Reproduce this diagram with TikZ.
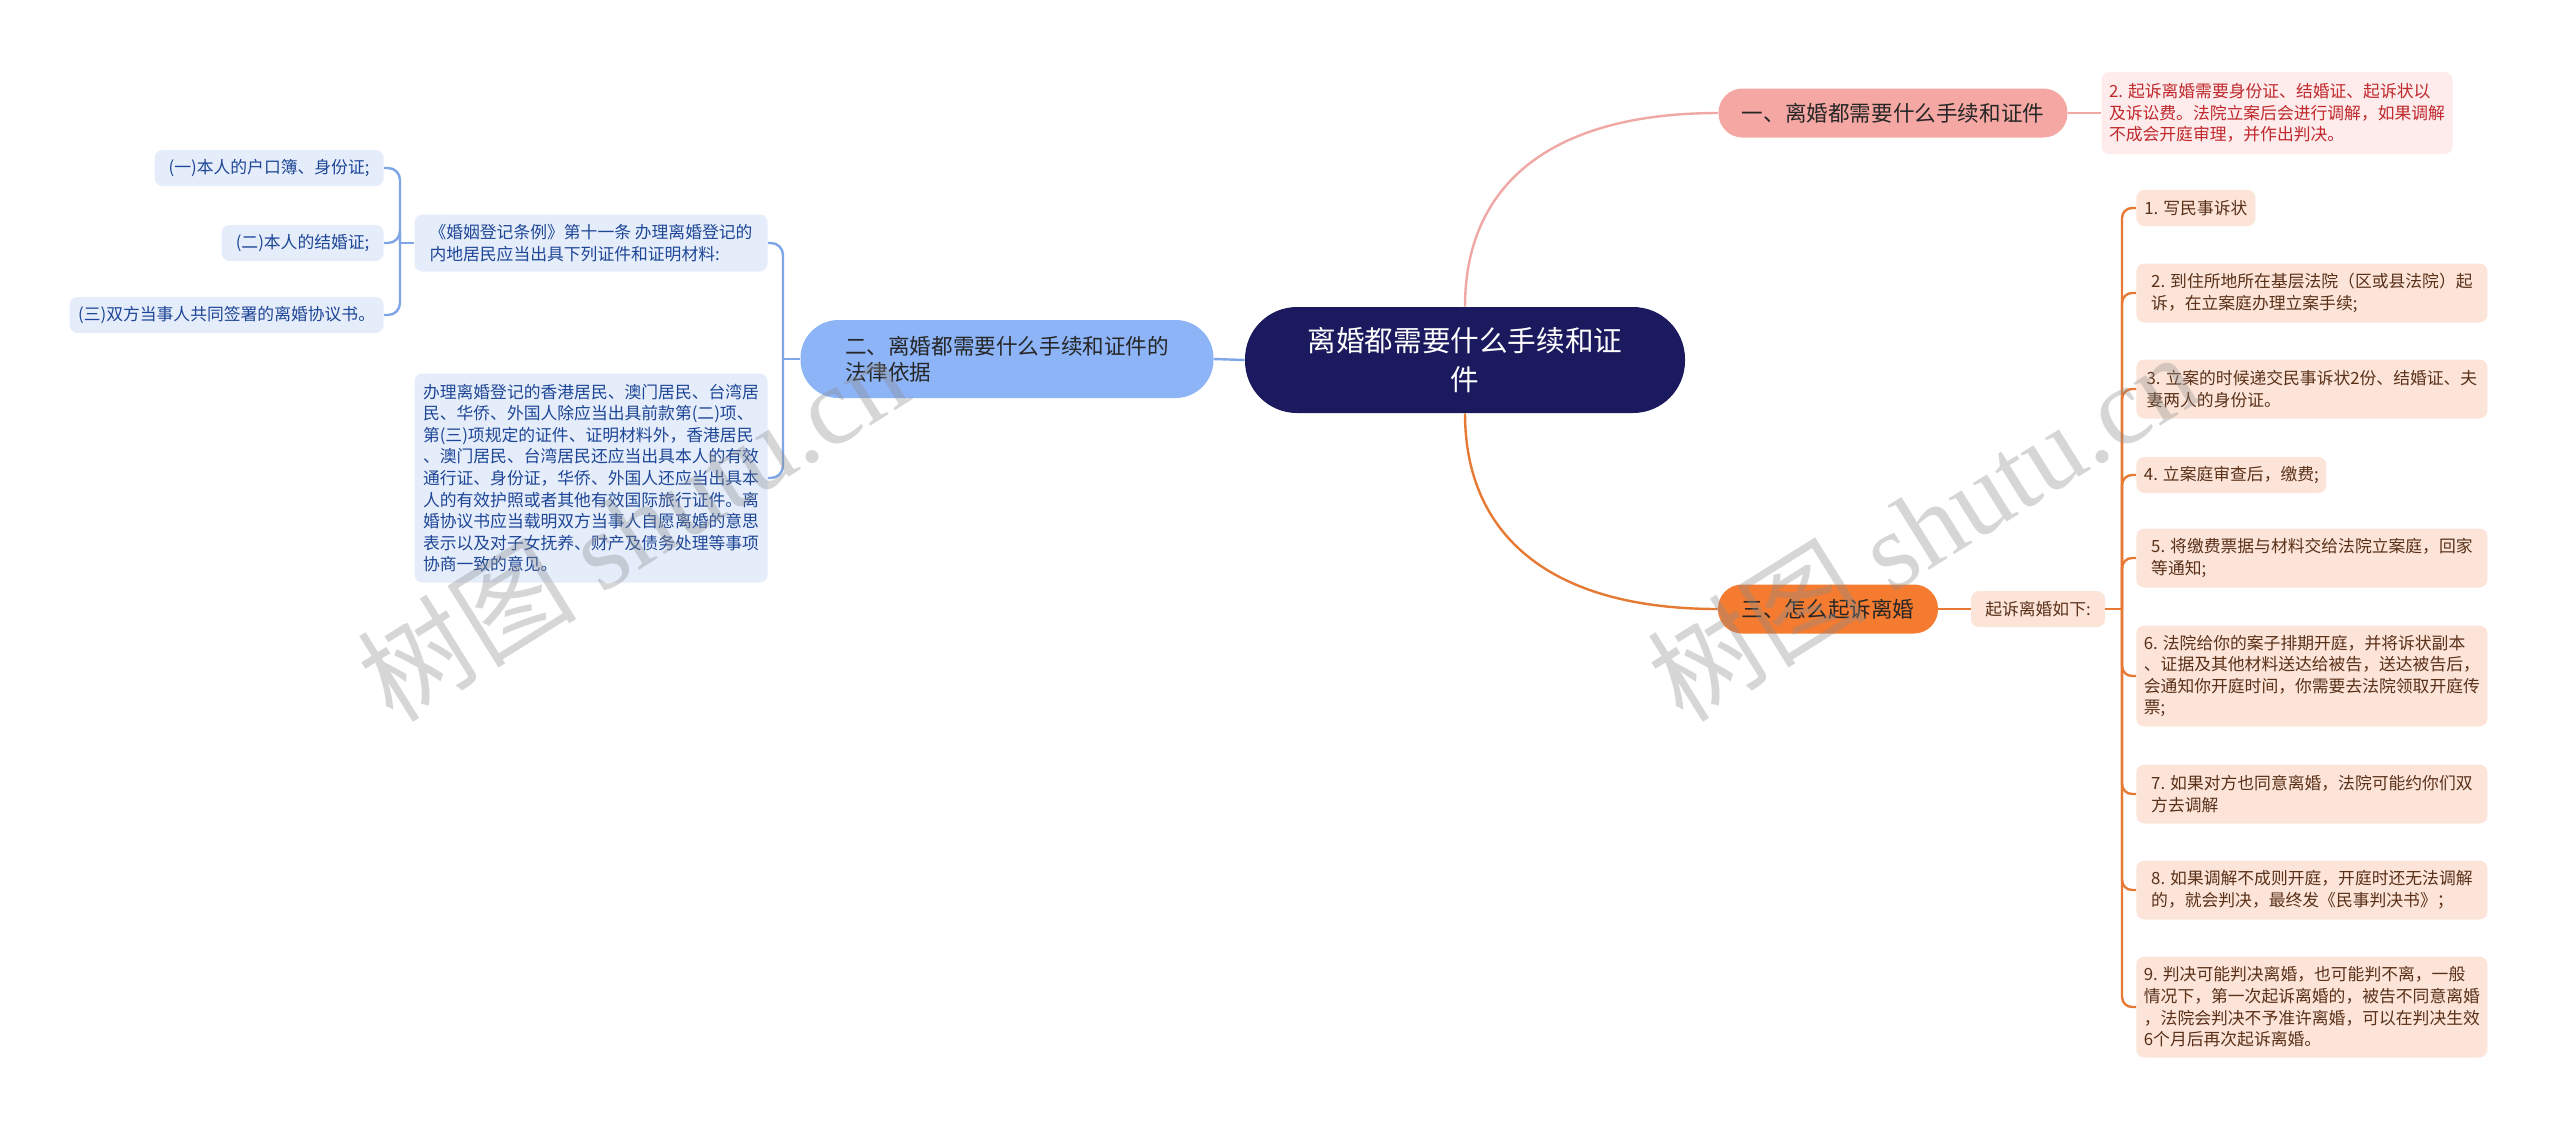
\documentclass[tikz,border=0pt]{standalone}
\usepackage{fontspec}
\setmainfont{Noto Sans CJK SC}
\newfontfamily\wmlatin{Liberation Serif}
\usetikzlibrary{positioning,calc}
\definecolor{mmnavy}{RGB}{27,26,94}
\definecolor{mmpink}{RGB}{245,168,163}
\definecolor{mmpinkbg}{RGB}{253,236,235}
\definecolor{mmpinkln}{RGB}{240,168,165}
\definecolor{mmred}{RGB}{192,40,45}
\definecolor{mmblue}{RGB}{140,180,247}
\definecolor{mmbluebg}{RGB}{229,237,251}
\definecolor{mmblueln}{RGB}{127,166,230}
\definecolor{mmbluetx}{RGB}{30,70,150}
\definecolor{mmorange}{RGB}{244,123,48}
\definecolor{mmorangebg}{RGB}{252,229,216}
\definecolor{mmorangeln}{RGB}{230,122,53}
\definecolor{mmbrown}{RGB}{90,48,25}
\tikzset{
  rootbox/.style={
    rectangle, rounded corners=26pt, fill=mmnavy, text=white,
    minimum width=220pt, minimum height=53pt, inner sep=0pt,
    align=center, font=\fontsize{14.3pt}{19.5pt}\selectfont
  },
  topic/.style={
    rectangle, rounded corners=12pt, minimum height=24.5pt, inner sep=0pt,
    align=left, text=black!85, font=\fontsize{10.8pt}{13pt}\selectfont
  },
  topicP/.style={topic, fill=mmpink},
  topicB/.style={topic, fill=mmblue, rounded corners=19pt},
  topicO/.style={topic, fill=mmorange},
  leaf/.style={
    rectangle, rounded corners=4pt, inner sep=0pt, align=left,
    font=\fontsize{8.4pt}{10.8pt}\selectfont
  },
  leafP/.style={leaf, fill=mmpinkbg, text=mmred},
  leafB/.style={leaf, fill=mmbluebg, text=mmbluetx},
  leafO/.style={leaf, fill=mmorangebg, text=mmbrown},
  linkP/.style={draw=mmpinkln, line width=1.2pt},
  linkB/.style={draw=mmblueln, line width=1.2pt, rounded corners=6pt},
  linkO/.style={draw=mmorangeln, line width=1.2pt, rounded corners=5pt},
  watermark/.style={
    rotate=32, text=black!45, opacity=0.35,
    font=\fontsize{55pt}{60pt}\selectfont
  }
}

\begin{document}
\begin{tikzpicture}[x=0.5pt, y=-0.5pt]
  \fill[white] (0,0) rectangle (2560,1131);
  \useasboundingbox (0,0) rectangle (2560,1131);

  \node[rootbox] (root) at (1465,360) {离婚都需要什么手续和证\\件};

  \node[topicP, minimum width=174.5pt] (b1) at (1893,113) {一、离婚都需要什么手续和证件};
  \node[leafP, minimum width=175.5pt, minimum height=41pt] (l1) at (2277,113)
    {2. 起诉离婚需要身份证、结婚证、起诉状以\\及诉讼费。法院立案后会进行调解，如果调解\\不成会开庭审理，并作出判决。};

  \node[topicB, minimum width=206.5pt, minimum height=39pt] (b2) at (1007,359)
    {二、离婚都需要什么手续和证件的\\法律依据};
  \node[leafB, minimum width=176.5pt, minimum height=28.5pt] (l21) at (591,243)
    {《婚姻登记条例》第十一条 办理离婚登记的\\内地居民应当出具下列证件和证明材料:};
  \node[leafB, minimum width=176.5pt, minimum height=104.5pt] (l22) at (591,478)
    {办理离婚登记的香港居民、澳门居民、台湾居\\民、华侨、外国人除应当出具前款第(二)项、\\第(三)项规定的证件、证明材料外，香港居民\\、澳门居民、台湾居民还应当出具本人的有效\\通行证、身份证，华侨、外国人还应当出具本\\人的有效护照或者其他有效国际旅行证件。离\\婚协议书应当载明双方当事人自愿离婚的意思\\表示以及对子女抚养、财产及债务处理等事项\\协商一致的意见。};
  \node[leafB, anchor=east, minimum width=114.5pt, minimum height=18pt] (d1) at (384,168) {(一)本人的户口簿、身份证;};
  \node[leafB, anchor=east, minimum width=81pt, minimum height=18pt]    (d2) at (384,243) {(二)本人的结婚证;};
  \node[leafB, anchor=east, minimum width=157pt, minimum height=18pt]   (d3) at (384,315) {(三)双方当事人共同签署的离婚协议书。};

  \node[topicO, minimum width=110pt] (b3) at (1828,609) {三、怎么起诉离婚};
  \node[leafO, minimum width=67pt, minimum height=18pt] (l3) at (2038,609) {起诉离婚如下:};
  \node[leafO, anchor=west, minimum width=59.5pt, minimum height=18pt]  (s1) at (2136,208) {1. 写民事诉状};
  \node[leafO, anchor=west, minimum width=175.5pt, minimum height=29.5pt] (s2) at (2136,293)
    {2. 到住所地所在基层法院（区或县法院）起\\诉，在立案庭办理立案手续;};
  \node[leafO, anchor=west, minimum width=175.5pt, minimum height=29.5pt] (s3) at (2136,389)
    {3. 立案的时候递交民事诉状2份、结婚证、夫\\妻两人的身份证。};
  \node[leafO, anchor=west, minimum width=95pt, minimum height=18pt]   (s4) at (2136,475) {4. 立案庭审查后，缴费;};
  \node[leafO, anchor=west, minimum width=175.5pt, minimum height=29.5pt] (s5) at (2136,558)
    {5. 将缴费票据与材料交给法院立案庭，回家\\等通知;};
  \node[leafO, anchor=west, minimum width=175.5pt, minimum height=50.5pt] (s6) at (2136,676)
    {6. 法院给你的案子排期开庭，并将诉状副本\\、证据及其他材料送达给被告，送达被告后，\\会通知你开庭时间，你需要去法院领取开庭传\\票;};
  \node[leafO, anchor=west, minimum width=175.5pt, minimum height=29.5pt] (s7) at (2136,794)
    {7. 如果对方也同意离婚，法院可能约你们双\\方去调解};
  \node[leafO, anchor=west, minimum width=175.5pt, minimum height=29.5pt] (s8) at (2136,890)
    {8. 如果调解不成则开庭，开庭时还无法调解\\的，就会判决，最终发《民事判决书》；};
  \node[leafO, anchor=west, minimum width=175.5pt, minimum height=50.5pt] (s9) at (2136,1007)
    {9. 判决可能判决离婚，也可能判不离，一般\\情况下，第一次起诉离婚的，被告不同意离婚\\，法院会判决不予准许离婚，可以在判决生效\\6个月后再次起诉离婚。};

  \coordinate (busB)  at (783,359);
  \coordinate (busB1) at (400,243);
  \coordinate (busO)  at (2122,609);

  \draw[linkP] (root.north) .. controls ($(root.north)+(0,-120)$) and ($(b1.west)+(-170,0)$) .. (b1.west);
  \draw[linkO] (root.south) .. controls ($(root.south)+(0,120)$) and ($(b3.west)+(-170,0)$) .. (b3.west);
  \draw[linkB] (b2.east) -- (root.west);
  \draw[linkP] (b1.east) -- (l1.west);
  \draw[linkO] (b3.east) -- (l3.west);

  \draw[linkB] (b2.west) -- (busB);
  \draw[linkB] (busB) |- (l21.east);
  \draw[linkB] (busB) |- (l22.east);
  \draw[linkB] (l21.west) -- (busB1);
  \foreach \d in {d1,d2,d3}
    \draw[linkB] (busB1) |- (\d.east);
  \draw[linkO] (l3.east) -- (busO);
  \foreach \s in {s1,s2,s3,s4,s5,s6,s7,s8,s9}
    \draw[linkO] (busO) |- (\s.west);

  \node[watermark] (wm1) at (632,526)  {树图 {\wmlatin shutu.cn}};
  \node[watermark] (wm2) at (1922,526) {树图 {\wmlatin shutu.cn}};
\end{tikzpicture}
\end{document}
